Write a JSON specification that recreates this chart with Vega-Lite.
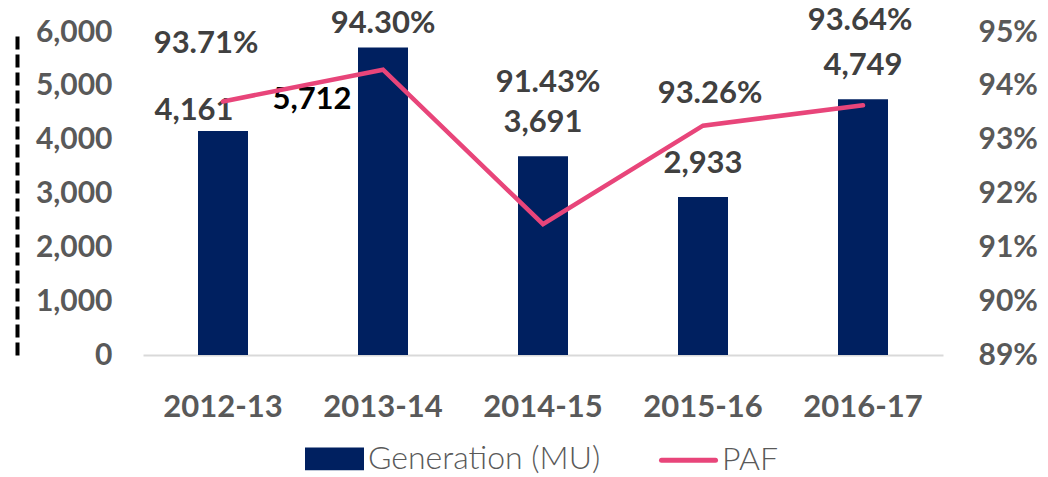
{
  "$schema": "https://vega.github.io/schema/vega-lite/v6.json",
  "width": 800,
  "height": 323,
  "autosize": {"type": "none"},
  "padding": {"left": 143, "top": 32, "right": 105, "bottom": 122},
  "config": {
    "view": {"stroke": null},
    "font": "Lato",
    "axis": {"grid": false, "labelFont": "Lato"},
    "text": {"font": "Lato"}
  },
  "data": {
    "values": [
      {"year": "2012-13", "gen": 4161, "paf": 0.9371},
      {"year": "2013-14", "gen": 5712, "paf": 0.9430},
      {"year": "2014-15", "gen": 3691, "paf": 0.9143},
      {"year": "2015-16", "gen": 2933, "paf": 0.9326},
      {"year": "2016-17", "gen": 4749, "paf": 0.9364}
    ]
  },
  "encoding": {
    "x": {
      "field": "year",
      "type": "nominal",
      "sort": null,
      "scale": {"paddingInner": 0.6875, "paddingOuter": 0.34375},
      "axis": {
        "title": null,
        "labelAngle": 0,
        "domainColor": "#D9D9D9",
        "domainWidth": 2,
        "ticks": false,
        "labelPadding": 37,
        "labelFontSize": 31,
        "labelFontWeight": "bold",
        "labelColor": "#595959"
      }
    }
  },
  "layer": [
    {
      "encoding": {
        "y": {
          "field": "gen",
          "type": "quantitative",
          "scale": {"domain": [0, 6000]},
          "axis": {
            "title": null,
            "orient": "left",
            "offset": 126,
            "domainDash": [13, 5],
            "domainColor": "#000000",
            "domainWidth": 4,
            "ticks": false,
            "labelPadding": -95,
            "values": [0, 1000, 2000, 3000, 4000, 5000, 6000],
            "format": ",.0f",
            "labelFlush": false,
            "labelFontSize": 30,
            "labelFontWeight": "bold",
            "labelColor": "#595959"
          }
        }
      },
      "layer": [
        {
          "mark": {"type": "bar"},
          "encoding": {
            "color": {
              "datum": "Generation (MU)",
              "type": "nominal",
              "scale": {"domain": ["Generation (MU)", "PAF"], "range": ["#002060", "#E8457A"]},
              "legend": {
                "title": null,
                "orient": "none",
                "legendX": 162,
                "legendY": 397,
                "direction": "horizontal",
                "labelFontSize": 32,
                "labelFont": "Lato",
                "labelFontWeight": 300,
                "labelColor": "#595959",
                "labelLimit": 500,
                "symbolSize": 2916,
                "columnPadding": 50,
                "labelOffset": 4,
                "encode": {
                  "symbols": {
                    "update": {
                      "shape": {"signal": "datum.value === 'PAF' ? 'M-1,0H1' : 'M-1,-0.33H1V0.33H-1Z'"},
                      "fill": {"signal": "datum.value === 'PAF' ? 'transparent' : '#002060'"},
                      "stroke": {"signal": "datum.value === 'PAF' ? '#E8457A' : 'transparent'"},
                      "strokeWidth": {"value": 5},
                      "strokeCap": {"value": "round"}
                    }
                  }
                }
              }
            }
          }
        },
        {
          "transform": [{"filter": "datum.year == '2014-15' || datum.year == '2015-16' || datum.year == '2016-17'"}],
          "mark": {"type": "text", "baseline": "middle", "dy": -33, "fontSize": 31, "fontWeight": "bold", "color": "#404040"},
          "encoding": {"text": {"field": "gen", "format": ","}}
        },
        {
          "transform": [{"filter": "datum.year == '2012-13'"}],
          "mark": {"type": "text", "baseline": "middle", "dx": -29, "dy": -20, "fontSize": 31, "fontWeight": "bold", "color": "#404040"},
          "encoding": {"text": {"field": "gen", "format": ","}}
        },
        {
          "transform": [{"filter": "datum.year == '2013-14'"}],
          "mark": {"type": "text", "baseline": "middle", "dx": -71, "dy": 52, "fontSize": 31, "fontWeight": "bold", "color": "#000000"},
          "encoding": {"text": {"field": "gen", "format": ","}}
        }
      ]
    },
    {
      "encoding": {
        "y": {
          "field": "paf",
          "type": "quantitative",
          "scale": {"domain": [0.89, 0.95], "zero": false},
          "axis": {
            "title": null,
            "orient": "right",
            "values": [0.89, 0.90, 0.91, 0.92, 0.93, 0.94, 0.95],
            "format": ".0%",
            "domain": false,
            "ticks": false,
            "labelPadding": 35,
            "labelFlush": false,
            "labelFontSize": 30,
            "labelFontWeight": "bold",
            "labelColor": "#595959"
          }
        }
      },
      "layer": [
        {
          "mark": {"type": "line", "strokeWidth": 4.5, "strokeCap": "round", "strokeJoin": "miter"},
          "encoding": {"color": {"datum": "PAF", "type": "nominal"}}
        },
        {
          "transform": [{"filter": "datum.year == '2012-13'"}],
          "mark": {"type": "text", "baseline": "middle", "dx": -17, "dy": -57, "fontSize": 31, "fontWeight": "bold", "color": "#404040"},
          "encoding": {"text": {"field": "paf", "format": ".2%"}}
        },
        {
          "transform": [{"filter": "datum.year == '2013-14'"}],
          "mark": {"type": "text", "baseline": "middle", "dx": 0, "dy": -46, "fontSize": 31, "fontWeight": "bold", "color": "#404040"},
          "encoding": {"text": {"field": "paf", "format": ".2%"}}
        },
        {
          "transform": [{"filter": "datum.year == '2014-15'"}],
          "mark": {"type": "text", "baseline": "middle", "dx": 5, "dy": -141, "fontSize": 31, "fontWeight": "bold", "color": "#404040"},
          "encoding": {"text": {"field": "paf", "format": ".2%"}}
        },
        {
          "transform": [{"filter": "datum.year == '2015-16'"}],
          "mark": {"type": "text", "baseline": "middle", "dx": 7, "dy": -32, "fontSize": 31, "fontWeight": "bold", "color": "#404040"},
          "encoding": {"text": {"field": "paf", "format": ".2%"}}
        },
        {
          "transform": [{"filter": "datum.year == '2016-17'"}],
          "mark": {"type": "text", "baseline": "middle", "dx": -3, "dy": -84, "fontSize": 31, "fontWeight": "bold", "color": "#404040"},
          "encoding": {"text": {"field": "paf", "format": ".2%"}}
        }
      ]
    }
  ],
  "resolve": {"scale": {"y": "independent"}}
}
